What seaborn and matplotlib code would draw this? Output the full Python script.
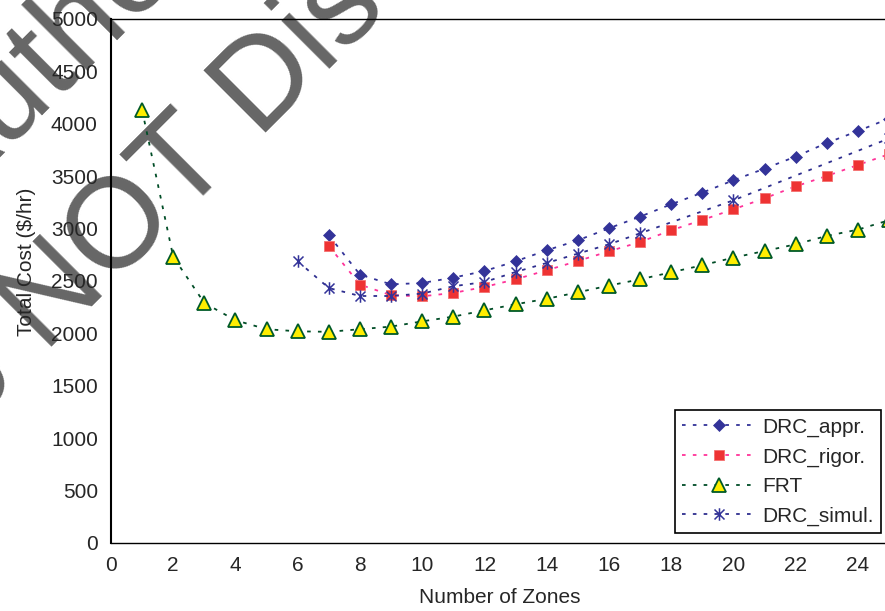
import matplotlib
matplotlib.use('Agg')
import matplotlib.pyplot as plt
import seaborn as sns
from matplotlib.path import Path

# Данные
zones_frt = list(range(1, 26))
cost_frt = [4130, 2730, 2290, 2125, 2040, 2020, 2015, 2040, 2065, 2115, 2160,
            2220, 2278, 2330, 2392, 2456, 2516, 2583, 2650, 2723, 2786, 2850,
            2930, 2990, 3080]

zones_drc = list(range(7, 26))
cost_appr = [2936, 2561, 2468, 2481, 2532, 2595, 2688, 2793, 2888, 3003, 3114,
             3232, 3343, 3461, 3572, 3687, 3817, 3931, 4050]
cost_rigor = [2834, 2466, 2364, 2354, 2386, 2443, 2516, 2602, 2691, 2783, 2872,
              2984, 3082, 3184, 3289, 3403, 3502, 3607, 3710]

zones_simul = [6, 7, 8, 9, 10, 11, 12, 13, 14, 15, 16, 17, 20, 25]
cost_simul = [2688, 2433, 2357, 2357, 2380, 2450, 2490, 2586, 2672, 2761, 2850,
              2955, 3270, 3860]

x_ticks = list(range(0, 25, 2))
y_ticks = list(range(0, 5001, 500))

sns.set_style('white')
plt.rcParams['font.family'] = ['Liberation Sans', 'DejaVu Sans']

FS = 15

# Маркер-звёздочка как в Excel (X + вертикальная черта)
star = Path([(-1, -1), (1, 1), (-1, 1), (1, -1), (0, -1.25), (0, 1.25)],
            [Path.MOVETO, Path.LINETO, Path.MOVETO, Path.LINETO,
             Path.MOVETO, Path.LINETO])

fig = plt.figure(figsize=(8.85, 6.11), dpi=100)
fig.patch.set_facecolor('white')
ax = fig.add_axes([111 / 885, 68 / 611, 778 / 885, 524 / 611])
ax.set_facecolor('none')

dots = (0, (2, 4))

sns.lineplot(x=zones_drc, y=cost_appr, ax=ax, label='DRC_appr.', errorbar=None,
             color='#333399', linestyle=dots, linewidth=1.3, marker='D',
             markersize=6.5, markerfacecolor='#333399', markeredgecolor='#333399',
             markeredgewidth=0.5)
sns.lineplot(x=zones_drc, y=cost_rigor, ax=ax, label='DRC_rigor.', errorbar=None,
             color='#FF3399', linestyle=dots, linewidth=1.3, marker='s',
             markersize=7, markerfacecolor='#EE3333', markeredgecolor='#F47070',
             markeredgewidth=0.6)
sns.lineplot(x=zones_frt, y=cost_frt, ax=ax, label='FRT', errorbar=None,
             color='#004D26', linestyle=dots, linewidth=1.3, marker='^',
             markersize=9.5, markerfacecolor='#FFEE00', markeredgecolor='#005A28',
             markeredgewidth=1.3)
sns.lineplot(x=zones_simul, y=cost_simul, ax=ax, label='DRC_simul.', errorbar=None,
             color='#2E2E8F', linestyle=dots, linewidth=1.3, marker=star,
             markersize=9, markerfacecolor='none', markeredgecolor='#333399',
             markeredgewidth=1.1)

ax.set_xlim(0, 25)
ax.set_ylim(0, 5000)
ax.set_xticks(x_ticks)
ax.set_yticks(y_ticks)
ax.tick_params(axis='both', direction='out', length=5.5, width=1, color='black',
               labelsize=FS, pad=4)
for side in ['left', 'bottom', 'top', 'right']:
    ax.spines[side].set_visible(True)
    ax.spines[side].set_color('black')
    ax.spines[side].set_linewidth(1.0)
ax.spines['left'].set_linewidth(1.5)
ax.grid(False)

ax.set_xlabel('Number of Zones', fontsize=FS, labelpad=9)
ax.set_ylabel('Total Cost ($/hr)', fontsize=FS)
ax.yaxis.set_label_coords(-0.097, 0.536)

leg = ax.legend(loc='lower right', bbox_to_anchor=(0.9897, 0.019),
                borderaxespad=0, fontsize=FS, frameon=True, fancybox=False,
                edgecolor='black', framealpha=1, handlelength=3.55,
                handletextpad=0.3, labelspacing=0.5, borderpad=0.35,
                numpoints=1)
leg.get_frame().set_linewidth(1.2)

# Водяной знак (под графиком)
fig.text(-54 / 885, 1 - 212 / 611, "Author's Copy", rotation=45,
         rotation_mode='anchor', ha='left', va='baseline', fontsize=92,
         color='#666666', zorder=-1)
fig.text(-95.6 / 885, 1 - 494.2 / 611, 'Do NOT Distribute', rotation=45,
         rotation_mode='anchor', ha='left', va='baseline', fontsize=92,
         color='#666666', zorder=-1)

fig.savefig('out.png', dpi=100)
plt.close(fig)
